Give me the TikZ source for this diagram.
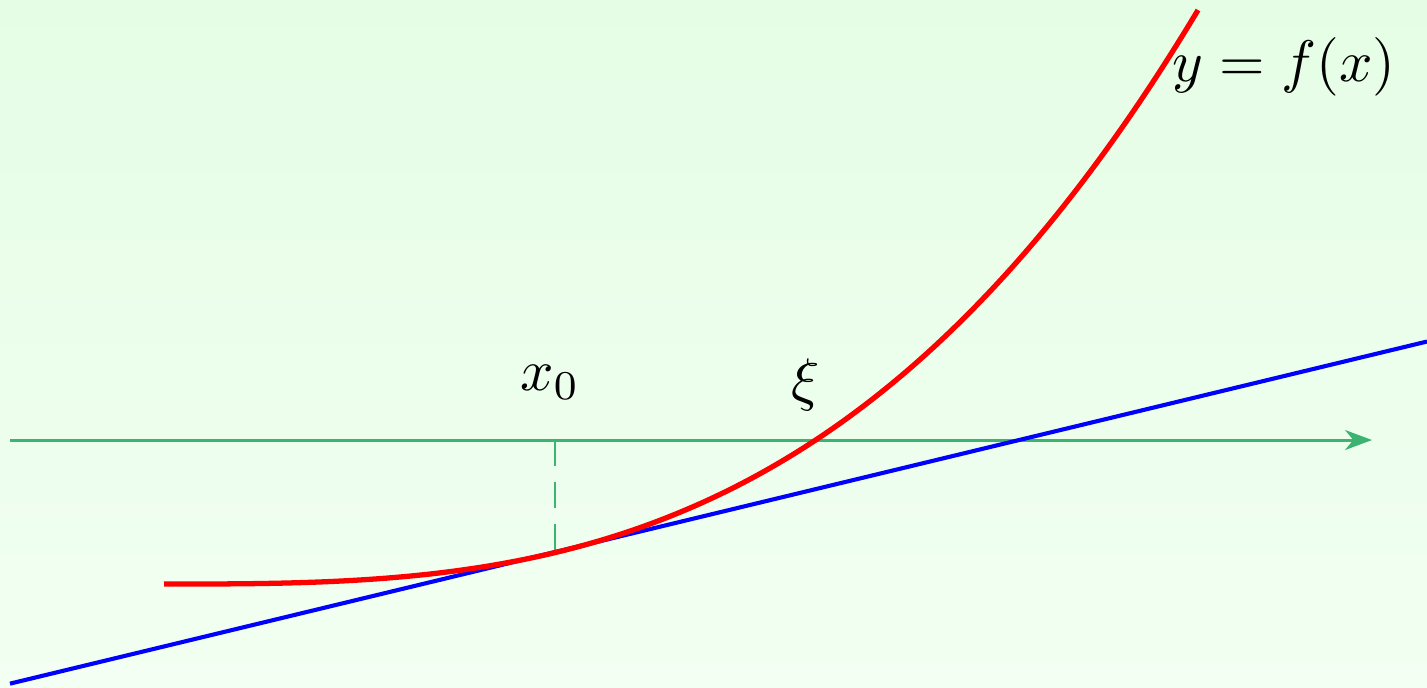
\documentclass[tikz,border=0pt]{standalone}
\usepackage{amsmath}
\usetikzlibrary{calc, positioning}
\usetikzlibrary{arrows.meta}

\definecolor{axisgreen}{RGB}{60,179,113}
\definecolor{bgtop}{RGB}{229,253,229}
\definecolor{bgbottom}{RGB}{242,255,242}

\begin{document}
\begin{tikzpicture}[x=0.6cm, y=0.6cm]
\def\xl{-5.55}
\def\xr{8.72}
\def\yb{-2.47}
\def\yt{4.40}

\shade[top color=bgtop, bottom color=bgbottom] (\xl,\yb) rectangle (\xr,\yt);
\useasboundingbox (\xl,\yb) rectangle (\xr,\yt);

\coordinate (axL) at (-5.45,0);
\coordinate (axR) at (8.17,0);
\coordinate (x0) at (0,0);
\coordinate (P) at (0,-1.12);
\coordinate (tanL) at (-5.45,-2.436);
\coordinate (tanR) at (8.72,0.985);

\draw[axisgreen, line width=0.5pt, -{Stealth[length=4.6pt, width=3.4pt, inset=1.4pt]}] (axL) -- (axR);
\draw[axisgreen, line width=0.5pt, dash pattern=on 4.4pt off 2.8pt] (x0) -- (P);

\draw[blue, line width=0.7pt] (tanL) -- (tanR);
\draw[red, line width=0.9pt] (-3.91,-1.44) .. controls (-0.46,-1.44) and (3.0,-1.42) .. (6.43,4.30);

\node (lx0) at (-0.05,0.58) {$x_0$};
\node (lxi) at (2.51,0.55) {$\xi$};
\node (lf) at (7.29,3.73) {$y=f(x)$};

\end{tikzpicture}
\end{document}
